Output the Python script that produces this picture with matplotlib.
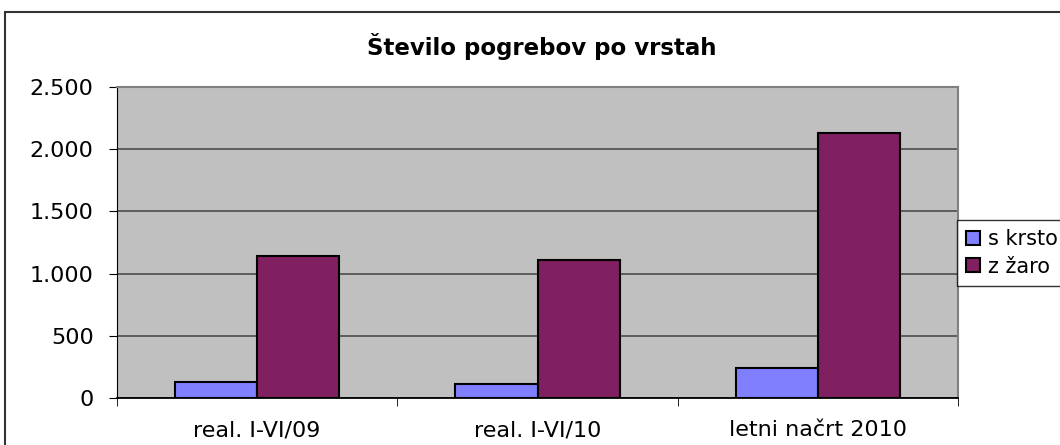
import matplotlib.pyplot as plt
import numpy as np
from matplotlib.patches import Rectangle

categories = ['real. I-VI/09', 'real. I-VI/10', 'letni načrt 2010']
s_krsto = [129, 113, 242]
z_zaro = [1144, 1110, 2129]
series_names = ['s krsto', 'z žaro']
yticks = [0, 500, 1000, 1500, 2000, 2500]
ytick_labels = ['0', '500', '1.000', '1.500', '2.000', '2.500']

plt.rcParams['font.family'] = ['DejaVu Sans']

fig = plt.figure(figsize=(10.6, 4.45), dpi=100)

# chart border (cropped at right and bottom like the original)
fig.patches.append(Rectangle((5 / 1060, -0.1), 1.2, (445 - 12) / 445 + 0.1,
                             transform=fig.transFigure, fill=False,
                             edgecolor='#333333', linewidth=1.5))

ax = fig.add_axes([117 / 1060, 47 / 445, 841 / 1060, 311 / 445])
ax.set_facecolor('#c0c0c0')

x = np.arange(len(categories))
w = 0.293
ax.bar(x - w / 2, s_krsto, w, color='#8080ff', edgecolor='black', linewidth=1.5, label=series_names[0], zorder=3)
ax.bar(x + w / 2, z_zaro, w, color='#802060', edgecolor='black', linewidth=1.5, label=series_names[1], zorder=3)

ax.set_xlim(-0.5, len(categories) - 0.5)
ax.set_ylim(0, 2500)
ax.set_yticks(yticks)
ax.set_yticklabels(ytick_labels, fontsize=16)
ax.set_xticks(x)
ax.set_xticklabels(categories, fontsize=16)
ax.xaxis.set_tick_params(length=0, pad=16)
ax.set_xticks(np.arange(len(categories) + 1) - 0.5, minor=True)
ax.tick_params(axis='x', which='minor', length=6, direction='out', color='black')
ax.tick_params(axis='y', length=5.8, pad=11, direction='out', color='black')

ax.yaxis.grid(True, color='#555555', linewidth=1.3, zorder=1)
ax.set_axisbelow(True)

for side in ['top', 'right']:
    ax.spines[side].set_color('#808080')
    ax.spines[side].set_linewidth(1.5)
ax.spines['left'].set_color('black')
ax.spines['bottom'].set_color('black')
ax.spines['bottom'].set_linewidth(1.3)

fig.text(542 / 1060, 1 - 55 / 445, 'Število pogrebov po vrstah',
         ha='center', va='baseline', fontsize=16.5, fontweight='bold')

leg = fig.legend(loc='upper left', bbox_to_anchor=(957 / 1060, 1 - 220 / 445),
                 fontsize=15, frameon=True, fancybox=False, edgecolor='black',
                 handlelength=0.66, handleheight=0.66, handletextpad=0.36,
                 borderpad=0.45, labelspacing=0.35, borderaxespad=0)
leg.get_frame().set_linewidth(1.0)

fig.savefig('out.png', dpi=100)
